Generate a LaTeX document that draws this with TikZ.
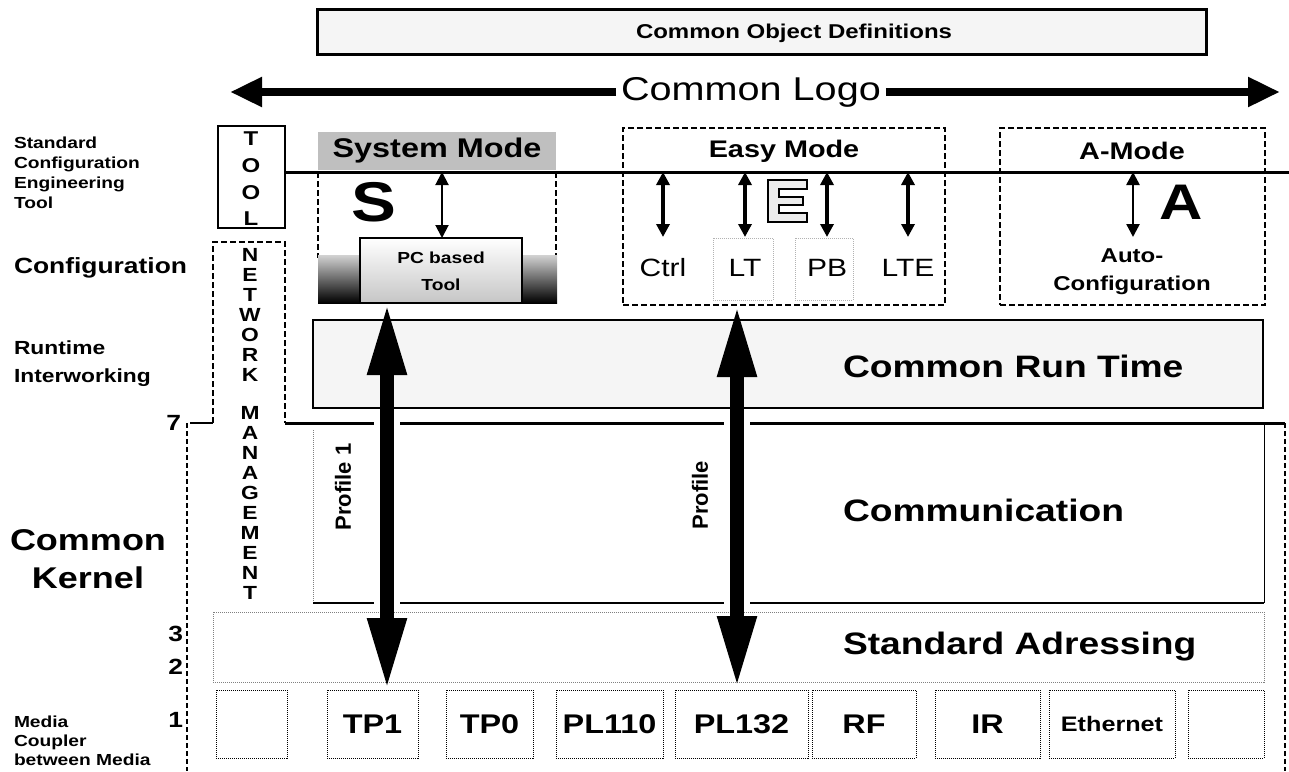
\documentclass[tikz,border=0pt]{standalone}
\usepackage{fontspec}
\setmainfont{Liberation Sans}[FakeStretch=1.2]
\newfontfamily\rotfont{Liberation Sans}
\usetikzlibrary{arrows.meta}
\newcommand\fz[2]{\fontsize{#1}{#2}\selectfont}
\begin{document}
\begin{tikzpicture}[x=1pt,y=-1pt,
  every node/.style={inner sep=0pt, outer sep=0pt},
  hb/.style={font=\fz{#1}{#1}\bfseries},
  hr/.style={font=\fz{#1}{#1}},
  modebox/.style={draw, dash pattern=on 6pt off 3pt, line width=1.6pt},
  medbox/.style={draw, densely dotted, line width=1pt, minimum height=68pt, anchor=north west},
  smarrow/.style={line width=#1, {Triangle[length=13pt,width=13pt]}-{Triangle[length=13pt,width=13pt]}},
  bigarrow/.style={line width=14pt, {Triangle[length=72pt,width=36pt]}-{Triangle[length=72pt,width=36pt]}},
  gapline/.style={white, line width=26pt},
  outer/.style={dash pattern=on 5pt off 3pt, line width=1.8pt},
]
\useasboundingbox (0,0) rectangle (1289,771);

% ---------- top ----------
\node[draw, line width=3pt, fill=gray!8, minimum width=889pt, minimum height=45pt, anchor=north west] (cod) at (317,9) {};
\node[hb=20] (codt) at (794,33) {Common Object Definitions};

\node[hr=33, inner sep=5pt] (logo) at (751,92) {Common Logo};
\coordinate (logoL) at (230,92);
\coordinate (logoR) at (1280,92);
\draw[line width=8pt, -{Triangle[length=32pt,width=28pt]}] (logo.west) -- (logoL);
\draw[line width=8pt, -{Triangle[length=32pt,width=28pt]}] (logo.east) -- (logoR);

% ---------- left labels ----------
\node[anchor=west, align=left, font=\fz{16}{20}\bfseries] (lab1) at (14,173) {Standard\\Configuration\\Engineering\\Tool};
\node[anchor=west, hb=22] (lab2) at (14,268) {Configuration};
\node[anchor=west, align=left, font=\fz{19}{28}\bfseries] (lab3) at (14,364) {Runtime\\Interworking};
\node[align=center, font=\fz{30}{38}\bfseries] (lab4) at (88,559) {Common\\Kernel};
\node[anchor=west, align=left, font=\fz{16}{19}\bfseries] (lab5) at (14,741) {Media\\Coupler\\between Media};

\node[anchor=east, hb=22] (n7) at (181,423) {7};
\node[anchor=east, hb=22] (n3) at (183,634) {3};
\node[anchor=east, hb=22] (n2) at (183,667) {2};
\node[anchor=east, hb=22] (n1) at (183,720) {1};

% ---------- TOOL / NETWORK MANAGEMENT ----------
\node[draw, line width=1.3pt, minimum width=67pt, minimum height=102pt, anchor=north west] (tool) at (218,126) {};
\node[align=center, font=\fz{20}{26.7}\bfseries] (toolt) at (251,179) {T\\O\\O\\L};

\coordinate (nwbl) at (213,423);
\coordinate (nwtl) at (213,242);
\coordinate (nwtr) at (285,242);
\coordinate (nwbr) at (285,423);
\draw[dash pattern=on 6pt off 3pt, line width=1.2pt] (nwbl) -- (nwtl) -- (nwtr) -- (nwbr);
\node[align=center, font=\fz{19}{20}\bfseries] (netw) at (250,315) {N\\E\\T\\W\\O\\R\\K};
\node[align=center, font=\fz{19}{20}\bfseries] (mgmt) at (250,503) {M\\A\\N\\A\\G\\E\\M\\E\\N\\T};

% ---------- mode line ----------
\coordinate (mlL) at (285,172);
\coordinate (mlR) at (1289,172);

% System Mode
\fill[gray!50] (318,132) rectangle (556,170);
\node[hb=27] (sysh) at (437,151) {System Mode};
\draw[dash pattern=on 6pt off 3pt, line width=1.6pt] (318,172) -- (318,258);
\draw[dash pattern=on 6pt off 3pt, line width=1.6pt] (556,172) -- (556,258);
\shade[top color=gray!35, bottom color=black] (318,255) rectangle (557,303);
\node[hb=56] (sS) at (374,202) {S};
\node[draw, line width=2.5pt, top color=white, bottom color=gray!45, minimum width=162pt, minimum height=65pt, anchor=north west] (pc) at (360,238) {};
\node[hb=16] (pct1) at (441,258) {PC based};
\node[hb=16] (pct2) at (441,285) {Tool};
\coordinate (sa1) at (442,172);
\draw[smarrow=2pt] (sa1) -- (pc.north -| sa1);

% Easy Mode
\node[modebox, minimum width=322pt, minimum height=177pt, anchor=north west] (easy) at (623,128) {};
\node[hb=24] (easyh) at (784,151) {Easy Mode};
\draw[gray!60, densely dotted, line width=1pt] (713,238) rectangle (773,300);
\draw[gray!60, densely dotted, line width=1pt] (795,238) rectangle (853,300);
\draw[line width=2.2pt, fill=gray!15] (768,180) -- ++(39,0) -- ++(0,9) -- ++(-28,0) -- ++(0,8) -- ++(24,0) -- ++(0,8) -- ++(-24,0) -- ++(0,8) -- ++(28,0) -- ++(0,9) -- ++(-39,0) -- cycle;
\node[hr=25] (ctrl) at (663,268) {Ctrl};
\node[hr=25] (lt) at (745,268) {LT};
\node[hr=25] (pb) at (827,268) {PB};
\node[hr=25] (lte) at (908,268) {LTE};
\foreach \i/\xx in {1/663,2/745,3/827,4/908}{
  \coordinate (ea\i t) at (\xx,172);
  \coordinate (ea\i b) at (\xx,237);
  \draw[smarrow=3.5pt] (ea\i t) -- (ea\i b);
}

% A-Mode
\node[modebox, minimum width=265pt, minimum height=177pt, anchor=north west] (amode) at (1000,128) {};
\node[hb=24] (amodeh) at (1132,151) {A-Mode};
\node[hb=50] (aA) at (1181,202) {A};
\node[align=center, font=\fz{20}{28}\bfseries] (auto) at (1132,272) {Auto-\\Configuration};
\coordinate (aat) at (1133,172);
\coordinate (aab) at (1133,237);
\draw[smarrow=2.5pt] (aat) -- (aab);

\draw[line width=3pt] (mlL) -- (mlR);

% ---------- Common Run Time ----------
\node[draw, line width=1.5pt, fill=gray!8, minimum width=950pt, minimum height=88pt, anchor=north west] (crt) at (313,320) {};
\node[anchor=west, hb=31] (crtt) at (843,366) {Common Run Time};

% ---------- Communication ----------
\coordinate (c7) at (190,423);
\draw[line width=2.5pt] (c7) -- (nwbl);
\coordinate (ctL) at (285,423);
\coordinate (ctR) at (1285,423);
\draw[line width=3pt] (ctL) -- (ctR);
\draw[gray, densely dotted, line width=1pt] (313,430) -- (313,603);
\draw[line width=2pt] (313,603) -- (1264,603);
\draw[line width=1pt] (1264,423) -- (1264,603);
\node[anchor=west, hb=31] (comm) at (843,510) {Communication};

\draw[outer] (187,423) -- (187,771);
\draw[outer] (1285,423) -- (1285,771);

% ---------- Standard Adressing ----------
\node[draw=gray, densely dotted, line width=1pt, minimum width=1051pt, minimum height=70pt, anchor=north west] (sad) at (213,612) {};
\node[anchor=west, hb=31] (sadt) at (843,647) {Standard Adressing};

% ---------- media ----------
\node[medbox, minimum width=71pt] (m0) at (216,690) {};
\node[medbox, minimum width=91pt, hb=27] (tp1) at (327,690) {TP1};
\node[medbox, minimum width=87pt, hb=27] (tp0) at (446,690) {TP0};
\node[medbox, minimum width=107pt, hb=27] (pl110) at (556,690) {PL110};
\node[medbox, minimum width=133pt, hb=27] (pl132) at (675,690) {PL132};
\node[medbox, minimum width=104pt, hb=27] (rf) at (812,690) {RF};
\node[medbox, minimum width=105pt, hb=27] (ir) at (935,690) {IR};
\node[medbox, minimum width=126pt, hb=21] (eth) at (1049,690) {Ethernet};
\node[medbox, minimum width=76pt] (m8) at (1188,690) {};

% ---------- profile arrows ----------
\node[rotate=90, font=\rotfont\bfseries\fz{22}{22}] (prof1) at (343,487) {Profile 1};
\node[rotate=90, font=\rotfont\bfseries\fz{22}{22}] (prof) at (700,495) {Profile};
\coordinate (pa1) at (387,303);
\coordinate (pa2) at (387,690);
\coordinate (pb1) at (737,305);
\coordinate (pb2) at (737,688);
\coordinate (ga1) at (387,412);
\coordinate (ga2) at (387,610);
\coordinate (gb1) at (737,412);
\coordinate (gb2) at (737,610);
\draw[gapline] (ga1) -- (ga2);
\draw[gapline] (gb1) -- (gb2);
\draw[bigarrow] (pa1) -- (pa2);
\draw[bigarrow] (pb1) -- (pb2);
\end{tikzpicture}
\end{document}
